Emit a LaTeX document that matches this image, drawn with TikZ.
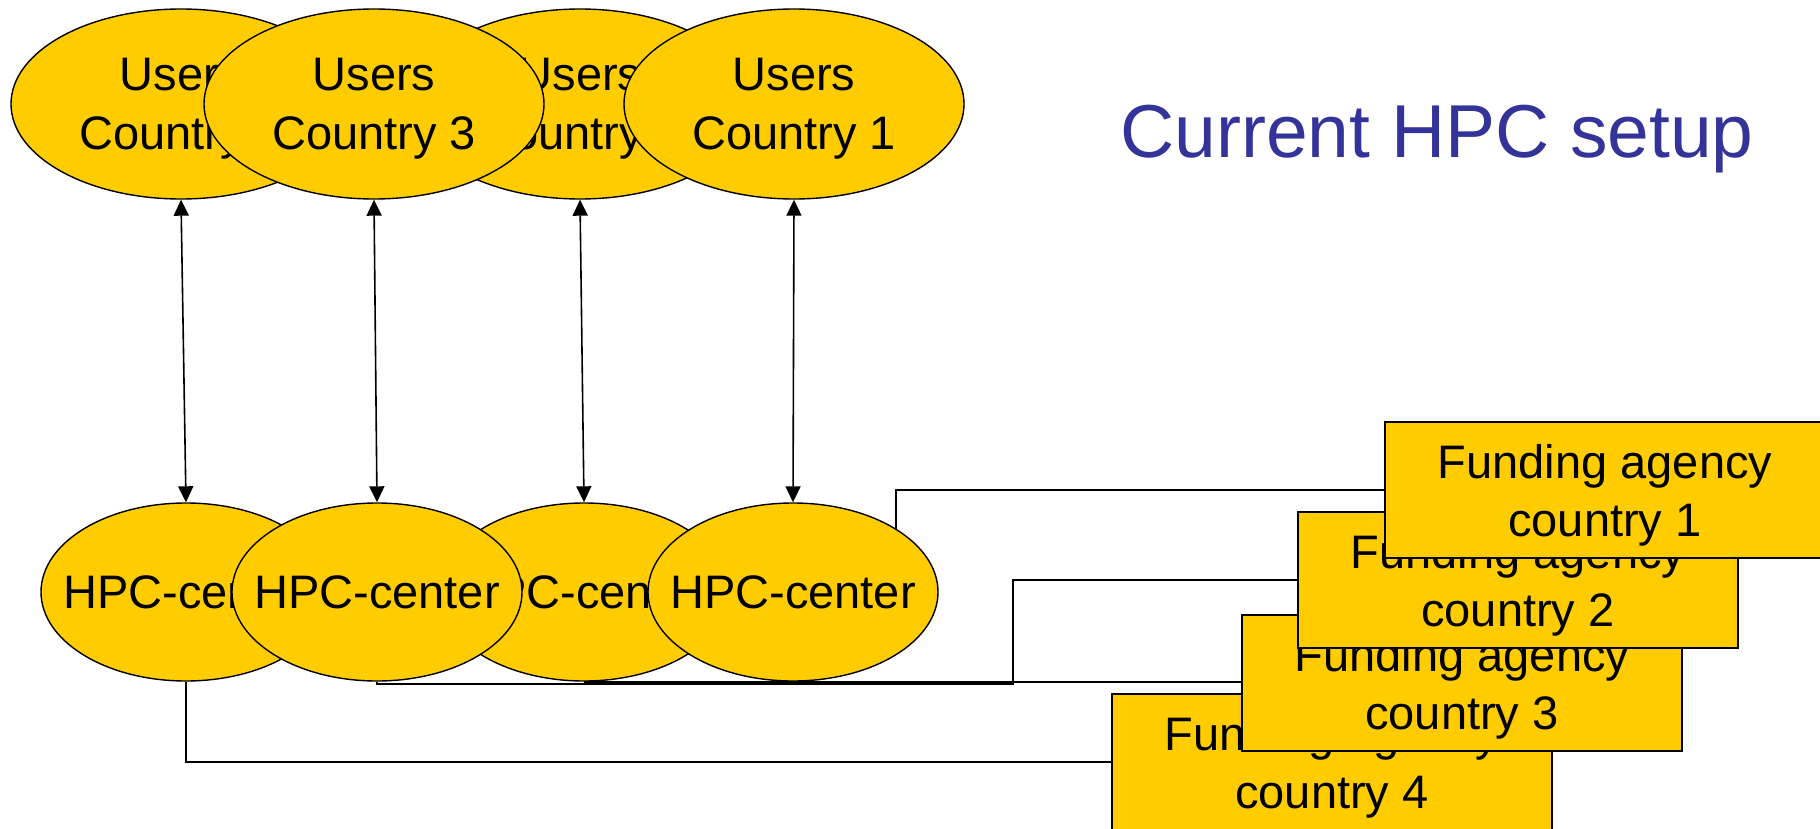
\documentclass[tikz,border=0pt]{standalone}
\usepackage{fontspec}
\setmainfont{Liberation Sans}
\usetikzlibrary{shapes.geometric, backgrounds, arrows.meta}
\definecolor{hpcyellow}{RGB}{255,204,0}
\definecolor{titleblue}{RGB}{51,51,153}
\tikzset{
    users/.style={ellipse, draw, fill=hpcyellow, line width=0.7pt, inner sep=0pt,
        minimum width=170pt, minimum height=95pt, align=center, text depth=0pt,
        font=\fontsize{23.5}{29.5}\selectfont},
    hpcnode/.style={ellipse, draw, fill=hpcyellow, line width=0.7pt, inner sep=0pt,
        minimum width=145pt, minimum height=89pt,
        font=\fontsize{23.5}{29.5}\selectfont},
    agency/.style={rectangle, draw, fill=hpcyellow, line width=0.7pt, inner sep=0pt,
        minimum width=220pt, minimum height=68pt, align=center, text depth=0pt,
        font=\fontsize{23.5}{29}\selectfont},
    link/.style={line width=0.8pt}
}
\begin{document}
\begin{tikzpicture}[x=0.5pt, y=-0.5pt, >={Triangle[length=8pt, width=7.5pt]}]
                \clip (0, 0) rectangle (1820, 829);
                \node[users] (u4) at (181, 104) {Users\\Country 4};
                \node[users] (u2) at (580, 104) {Users\\Country 2};
                \node[users] (u3) at (374, 104) {Users\\Country 3};
                \node[users] (u1) at (794, 104) {Users\\Country 1};
                \node[hpcnode] (h4) at (186, 592) {\makebox[0pt]{HPC-center}};
                \node[hpcnode] (h2) at (584, 592) {\makebox[0pt]{HPC-center}};
                \node[hpcnode] (h3) at (377, 592) {\makebox[0pt]{HPC-center}};
                \node[hpcnode] (h1) at (793, 592) {\makebox[0pt]{HPC-center}};
                \node[anchor=base, text=titleblue, font=\fontsize{37.5}{45}\selectfont] (title) at (1437, 157) {Current HPC setup};
                \node[agency] (f4) at (1332, 762) {Funding agency\\country 4};
                \node[agency] (f3) at (1462, 683) {Funding agency\\country 3};
                \node[agency] (f2) at (1518, 580) {Funding agency\\country 2};
                \node[agency] (f1) at (1605, 490) {Funding agency\\country 1};
                \coordinate (bend2) at (1013, 684);
                \begin{pgfonlayer}{background}
                \draw[link] (h4.south) |- (f4.west);
                \draw[link] (h2.south) -- (h2.south -| f3.west);
                \draw[link] (h3.south) |- (bend2) |- (f2.west);
                \draw[link] (f1.west) -| (h1.north east);
                \end{pgfonlayer}
                \draw[<->, line width=0.8pt] (u4.south) -- (h4.north);
                \draw[<->, line width=0.8pt] (u3.south) -- (h3.north);
                \draw[<->, line width=0.8pt] (u2.south) -- (h2.north);
                \draw[<->, line width=0.8pt] (u1.south) -- (h1.north);
            \end{tikzpicture}
\end{document}
